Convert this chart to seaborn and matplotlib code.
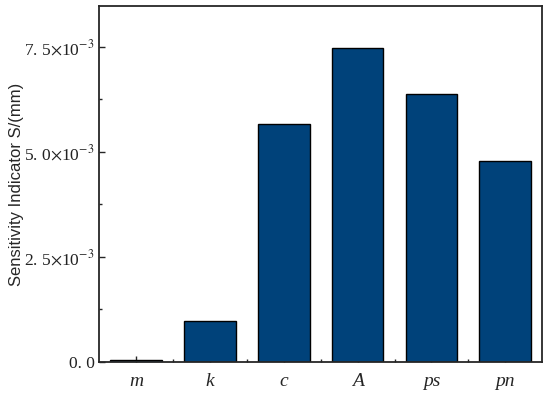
import numpy as np
import pandas as pd
import matplotlib
matplotlib.use('Agg')
import matplotlib.pyplot as plt
import seaborn as sns
from matplotlib.ticker import FixedLocator, MultipleLocator

# values
params = ['m', 'k', 'c', 'A', 'ps', 'pn']
sensitivity = [0.05e-3, 0.98e-3, 5.65e-3, 7.47e-3, 6.37e-3, 4.77e-3]
ytick_vals = [0.0, 2.5e-3, 5.0e-3, 7.5e-3]
ytick_labels = ['0. 0', r'2. 5$\times$10$^{-3}$', r'5. 0$\times$10$^{-3}$', r'7. 5$\times$10$^{-3}$']

df = pd.DataFrame({'param': params, 'S': sensitivity})

sns.set_style('ticks')
plt.rcParams['font.family'] = ['Liberation Serif', 'DejaVu Serif']
plt.rcParams['mathtext.fontset'] = 'stix'

fig = plt.figure(figsize=(5.5, 3.93), dpi=100)
ax = fig.add_axes([0.18, 0.079, 0.806, 0.906])

sns.barplot(data=df, x='param', y='S', color='#00427a', saturation=1,
            width=0.7, edgecolor='black', linewidth=1, ax=ax)

ax.set_xlim(-0.5, 5.5)
ax.set_ylim(0, 8.47e-3)
ax.set_yticks(ytick_vals)
ax.set_yticklabels(ytick_labels, fontsize=12.5, color='#222222')
ax.yaxis.set_minor_locator(MultipleLocator(1.25e-3))
ax.xaxis.set_minor_locator(FixedLocator(np.arange(0.5, 5.5, 1)))
ax.set_xticks(range(len(params)))
ax.set_xticklabels(params, fontsize=14, style='italic')

ax.tick_params(which='both', direction='in', top=False, right=False)
ax.tick_params(which='major', length=4, width=1)
ax.tick_params(which='minor', length=2.5, width=1)
ax.tick_params(axis='x', pad=8)
ax.tick_params(axis='y', pad=3)
for s in ax.spines.values():
    s.set_visible(True)
    s.set_linewidth(1.3)

ax.set_xlabel('')
ax.set_ylabel('Sensitivity Indicator S/(mm)', fontsize=12,
              family=['Liberation Sans', 'DejaVu Sans'])
ax.yaxis.set_label_coords(-0.17, 0.5)

fig.savefig('out.png', dpi=100)
